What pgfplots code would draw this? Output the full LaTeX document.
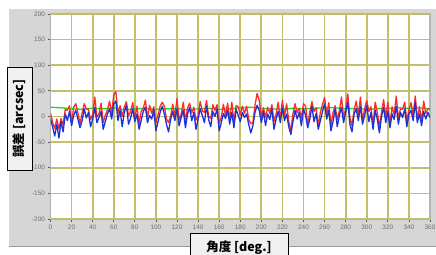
\documentclass[border=0pt]{standalone}
\usepackage{pgfplots}
\pgfplotsset{compat=1.18}
\usepackage{fontspec}
\setmainfont{Liberation Sans}
\newfontfamily\jp{Noto Sans CJK JP}
\definecolor{panel}{RGB}{214,214,214}
\definecolor{gridc}{RGB}{196,192,105}
\definecolor{tickc}{RGB}{110,110,110}
\definecolor{boxfill}{RGB}{240,240,240}
\definecolor{sred}{RGB}{250,45,45}
\definecolor{sblue}{RGB}{30,50,215}
\definecolor{sgreen}{RGB}{20,225,20}

\pgfplotstableread{
x y
0 18
10 17
20 15
30 14
40 16
50 15
60 17
70 13
80 15
90 16
100 14
110 15
120 16
130 13
140 15
150 16
160 14
170 15
180 17
190 18
200 16
210 15
220 14
230 16
240 15
250 16
260 17
270 17
280 15
290 16
300 14
310 15
320 16
330 17
340 16
350 17
360 15
}\green

\pgfplotstableread{
x y
0 7
2 -12
4 -23
6 -5
8 -24
10 -4
12 -16
14 14
16 12
18 21
20 -11
22 18
24 25
26 7
28 -14
30 7
32 25
34 15
36 14
38 -6
40 4
42 38
44 -1
46 5
48 26
50 -12
52 2
54 13
56 30
58 5
60 43
62 48
64 6
66 21
68 0
70 19
72 29
74 1
76 10
78 27
80 -2
82 20
84 -15
86 10
88 16
90 32
92 -3
94 22
96 6
98 19
100 -12
102 3
104 20
106 28
108 20
110 -5
112 -12
114 1
116 24
118 1
120 35
122 -7
124 5
126 28
128 -9
130 17
132 26
134 7
136 18
138 -7
140 1
142 29
144 11
146 8
148 31
150 1
152 -4
154 23
156 12
158 23
160 -13
162 -2
164 24
166 2
168 26
170 -6
172 28
174 -11
176 21
178 19
180 3
182 20
184 6
186 20
188 -5
190 -14
192 -12
194 22
196 45
198 32
200 -1
202 17
204 -2
206 18
208 6
210 23
212 -10
214 5
216 28
218 -6
220 32
222 1
224 25
226 -9
228 -28
230 6
232 25
234 7
236 16
238 -3
240 25
242 20
244 -16
246 9
248 29
250 10
252 17
254 -18
256 8
258 23
260 37
262 3
264 27
266 -18
268 8
270 21
272 -6
274 11
276 38
278 -1
280 15
282 44
284 -2
286 -18
288 13
290 30
292 2
294 38
296 -9
298 16
300 31
302 10
304 19
306 -18
308 28
310 8
312 -20
314 8
316 33
318 -2
320 28
322 -16
324 19
326 3
328 40
330 -4
332 15
334 14
336 28
338 -8
340 13
342 27
344 2
346 40
348 -6
350 19
352 -9
354 30
356 6
358 15
360 14
}\red

\pgfplotstableread{
x y
0 -5
2 -20
4 -38
6 -15
8 -42
10 -10
12 -30
14 5
16 -8
18 10
20 -18
22 2
24 12
26 -5
28 -22
30 -8
32 15
34 -3
36 8
38 -20
40 -5
42 18
44 -12
46 -2
48 10
50 -25
52 -10
54 5
56 15
58 -5
60 25
62 30
64 -8
66 12
68 -20
70 8
72 22
74 -15
76 -3
78 15
80 -10
82 5
84 -25
86 -8
88 10
90 18
92 -12
94 2
96 -5
98 12
100 -28
102 -10
104 8
106 20
108 5
110 -15
112 -30
114 -5
116 10
118 -8
120 15
122 -18
124 -2
126 12
128 -22
130 5
132 18
134 -8
136 8
138 -25
140 -5
142 15
144 2
146 -12
148 20
150 -6
152 -20
154 10
156 0
158 15
160 -28
162 -12
164 6
166 -4
168 12
170 -15
172 8
174 -22
176 14
178 3
180 -10
182 8
184 -2
186 5
188 -15
190 -32
192 -18
194 8
196 22
198 12
200 -12
202 10
204 -18
206 5
208 -6
210 15
212 -25
214 -5
216 10
218 -12
220 18
222 -8
224 5
226 -20
228 -35
230 -10
232 12
234 -5
236 8
238 -18
240 15
242 2
244 -22
246 -5
248 20
250 -10
252 6
254 -25
256 -8
258 10
260 25
262 -5
264 12
266 -28
268 -10
270 15
272 -20
274 2
276 18
278 -12
280 8
282 28
284 -15
286 -30
288 5
290 15
292 -8
294 20
296 -15
298 2
300 22
302 -10
304 8
306 -25
308 12
310 -5
312 -32
314 0
316 18
318 -12
320 10
322 -22
324 5
326 -6
328 20
330 -15
332 8
334 -2
336 15
338 -20
340 5
342 12
344 -8
346 28
348 -12
350 5
352 -18
354 10
356 -5
358 8
360 -2
}\blue

\begin{document}
\begin{tikzpicture}[x=1bp,y=1bp]
\useasboundingbox (0,0) rectangle (436,254);
\fill[white] (0,0) rectangle (436,254);
\fill[panel] (9,7) rectangle (436,245);
\draw[gray!80, line width=0.8bp] (9,7.4) -- (436,7.4);
\begin{axis}[
  at={(50.5bp,35bp)}, anchor=south west, scale only axis,
  width=379.5bp, height=205bp,
  xmin=0, xmax=360, ymin=-200, ymax=200,
  xtick={0,20,...,360}, ytick={-200,-150,...,200},
  grid=major, grid style={gridc, line width=1.7bp},
  axis background/.style={fill=white},
  axis line style={gray!60, line width=1bp},
  tick align=outside, tick pos=left, major tick length=3bp,
  tick style={gray!70!black, line width=0.8bp},
  ticklabel style={font=\fontsize{6.5}{7}\selectfont, text=tickc},
  xticklabel style={yshift=1bp},
  yticklabel style={xshift=1bp},
  /pgf/number format/assume math mode=true,
  /pgf/number format/1000 sep={},
  every axis plot/.append style={line width=1.3bp, line join=round},
]
\addplot[sgreen, no marks] table {\green};
\addplot[sred, no marks] table {\red};
\addplot[sblue, no marks] table {\blue};
\end{axis}
\node[draw=black, fill=boxfill, line width=0.8bp, rotate=90, inner sep=0pt,
      minimum width=103bp, minimum height=25bp,
      font=\jp\bfseries\fontsize{12.5}{13}\selectfont] at (19.5,135.5) {誤差 [arcsec]};
\node[draw=black, fill=boxfill, line width=0.8bp, anchor=north, inner sep=0pt,
      minimum width=98bp, minimum height=28bp,
      font=\jp\bfseries\fontsize{12.5}{13}\selectfont] at (239,21) {角度 [deg.]};
\end{tikzpicture}
\end{document}
